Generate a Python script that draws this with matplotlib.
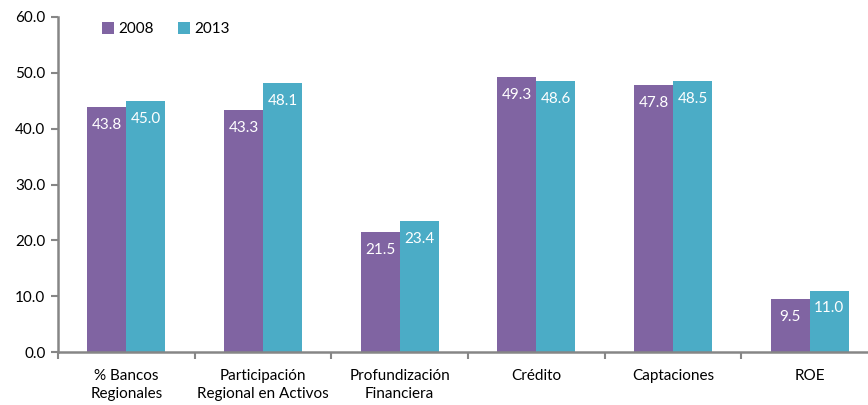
import matplotlib.pyplot as plt
import numpy as np

plt.rcParams['font.family'] = ['Lato', 'DejaVu Sans']

# Indicadores por año
categorias = ["% Bancos\nRegionales", "Participación\nRegional en Activos",
              "Profundización\nFinanciera", "Crédito", "Captaciones", "ROE"]
valores_2008 = [43.8, 43.3, 21.5, 49.3, 47.8, 9.5]
valores_2013 = [45.0, 48.1, 23.4, 48.6, 48.5, 11.0]

color_2008 = '#8064A2'
color_2013 = '#4BACC6'
gris = '#868686'

fig = plt.figure(figsize=(8.68, 4.05), dpi=100)
# the last category runs past the right edge of the canvas
ax = fig.add_axes([58 / 868, 1 - 352 / 405, 820 / 868, 335 / 405])

x = np.arange(len(categorias))
ancho = 0.285
b1 = ax.bar(x - ancho / 2, valores_2008, ancho, color=color_2008, label='2008')
b2 = ax.bar(x + ancho / 2, valores_2013, ancho, color=color_2013, label='2013')

# etiquetas de valor dentro de cada barra
for barras in (b1, b2):
    for b in barras:
        ax.text(b.get_x() + b.get_width() / 2, b.get_height() - 3.2,
                f"{b.get_height():.1f}", ha='center', va='center',
                color='white', fontsize=11)

ax.set_xlim(-0.5, len(categorias) - 0.5)
ax.set_ylim(0, 60)
ax.set_yticks(np.arange(0, 61, 10))
ax.set_yticklabels([f"{v:.1f}" for v in np.arange(0, 61, 10)], fontsize=11)

# ticks del eje x en los límites de cada categoría
ax.set_xticks(np.arange(-0.5, len(categorias), 1.0))
ax.set_xticklabels([])
ax.set_xticks(x, minor=True)
ax.set_xticklabels(categorias, minor=True, fontsize=11, linespacing=1.35)
ax.tick_params(axis='x', which='minor', length=0, pad=12)
ax.tick_params(axis='x', which='major', length=5, color=gris, width=1.5)
ax.tick_params(axis='y', length=5, color=gris, width=1.5, pad=4)

for s in ('top', 'right'):
    ax.spines[s].set_visible(False)
for s in ('left', 'bottom'):
    ax.spines[s].set_color(gris)
    ax.spines[s].set_linewidth(1.8)

ax.legend(loc='upper left', bbox_to_anchor=(0.037, 1.025), ncol=2, frameon=False,
          fontsize=11, handlelength=0.75, handleheight=0.75,
          handletextpad=0.3, columnspacing=1.6)

fig.savefig('out.png', dpi=100)
